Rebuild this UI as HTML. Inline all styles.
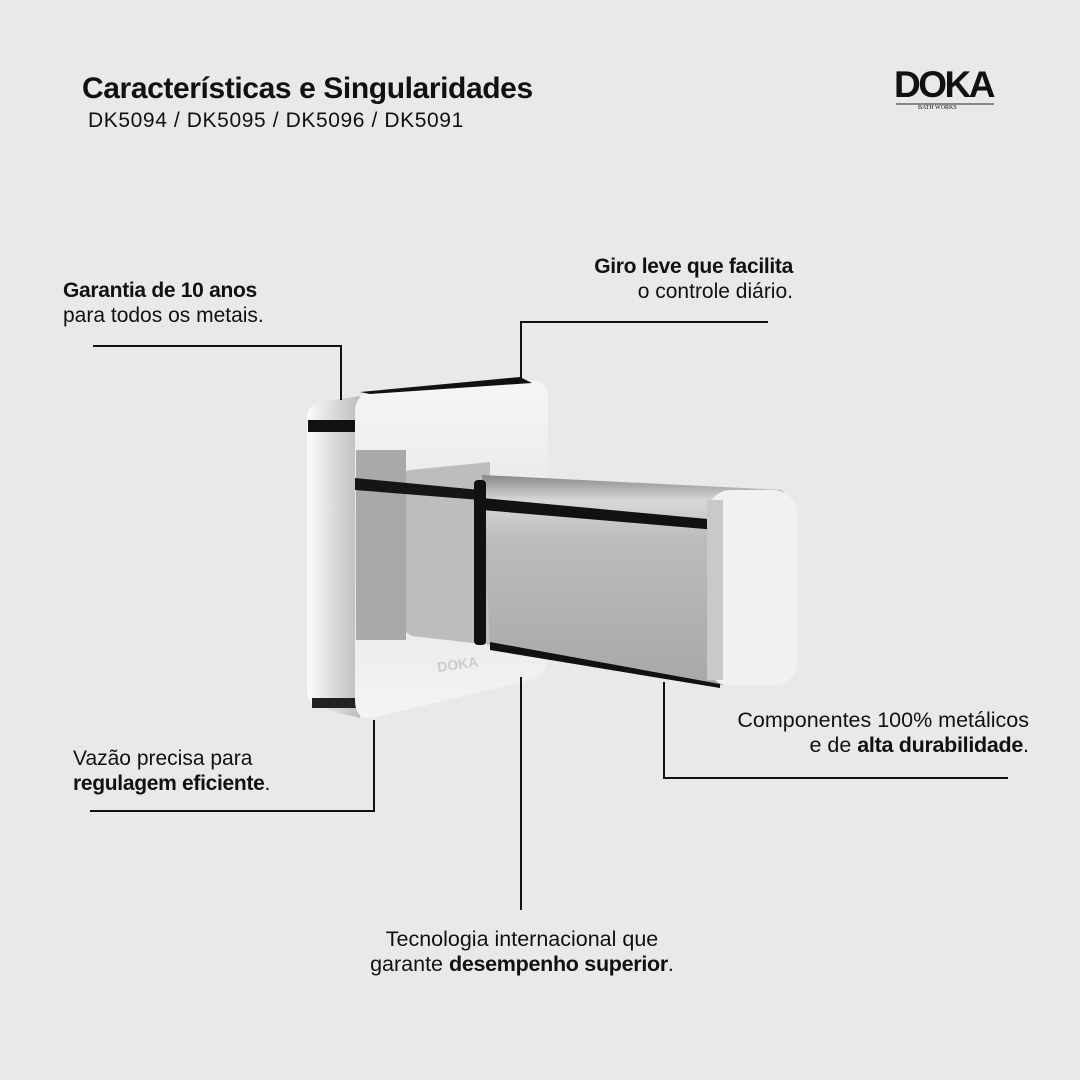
<!DOCTYPE html>
<html><head><meta charset="utf-8"><style>
body{margin:0;width:1080px;height:1080px;background:#e9e9e8;position:relative;overflow:hidden;font-family:"Liberation Sans",sans-serif;color:#111}
.t{position:absolute;white-space:nowrap;line-height:25px}
b{font-weight:bold}
</style></head><body>
<div class="t" style="left:82px;top:71px;font-size:30px;line-height:36px;font-weight:bold;letter-spacing:-0.4px">Características e Singularidades</div>
<div class="t" style="left:88px;top:108px;font-size:21px;letter-spacing:0.6px">DK5094 / DK5095 / DK5096 / DK5091</div>
<div class="t" style="left:894px;top:64px;font-size:37px;line-height:42px;font-weight:bold;letter-spacing:-2.5px">DOKA</div>
<div style="position:absolute;left:896px;top:103px;width:98px;height:2px;background:#888"></div>
<div class="t" style="left:918px;top:104px;font-size:6px;line-height:8px;font-family:'Liberation Serif',serif">BATH WORKS</div>

<div class="t" style="left:63px;top:278px;font-size:21px"><b style="letter-spacing:-0.3px">Garantia de 10 anos</b><br>para todos os metais.</div>
<div class="t" style="left:493px;top:254px;font-size:21px;text-align:right;width:300px"><b style="letter-spacing:-0.3px">Giro leve que facilita</b><br>o controle diário.</div>
<div class="t" style="left:73px;top:746px;font-size:21px">Vazão precisa para<br><b style="letter-spacing:-0.3px">regulagem eficiente</b>.</div>
<div class="t" style="left:640px;top:708px;font-size:21.5px;text-align:right;width:389px">Componentes 100% metálicos<br>e de <b style="letter-spacing:-0.3px">alta durabilidade</b>.</div>
<div class="t" style="left:272px;top:927px;font-size:21.5px;text-align:center;width:500px">Tecnologia internacional que<br>garante <b style="letter-spacing:-0.3px">desempenho superior</b>.</div>

<svg width="1080" height="1080" style="position:absolute;left:0;top:0">
<defs>
<linearGradient id="pl" x1="0" y1="0" x2="0" y2="1"><stop offset="0" stop-color="#f6f6f6"/><stop offset="0.5" stop-color="#e4e4e4"/><stop offset="1" stop-color="#f4f4f4"/></linearGradient>
<linearGradient id="sd" x1="0" y1="0" x2="1" y2="0"><stop offset="0" stop-color="#fafafa"/><stop offset="1" stop-color="#bdbdbd"/></linearGradient>
<linearGradient id="bd" x1="0" y1="0" x2="0" y2="1"><stop offset="0" stop-color="#888"/><stop offset="0.12" stop-color="#d8d8d8"/><stop offset="0.3" stop-color="#bcbcbc"/><stop offset="1" stop-color="#a8a8a8"/></linearGradient>
</defs>
<path d="M320,402 L360,396 L360,718 L318,708 Q307,704 307,690 L307,418 Q308,404 320,402Z" fill="url(#sd)"/>
<rect x="308" y="420" width="48" height="12" fill="#111"/>
<rect x="312" y="698" width="48" height="10" fill="#222"/>
<path d="M370,393 L532,380 Q548,380 548,398 L548,660 Q546,676 530,680 L372,718 Q355,720 355,700 L355,410 Q356,395 370,393Z" fill="url(#pl)"/>
<path d="M360,392 L520,377 L532,383 L370,394Z" fill="#111"/>
<path d="M410,470 L490,462 L490,645 L412,636 Q400,630 400,616 L400,485 Q401,471 410,470Z" fill="#bdbdbd"/>
<rect x="356" y="450" width="50" height="190" fill="#a9a9a9"/>
<path d="M355,478 L480,490 L480,500 L355,490Z" fill="#151515"/>
<path d="M482,475 L782,490 L790,500 L790,675 L715,686 L490,645 Z" fill="url(#bd)"/>
<path d="M482,498 L740,522 L740,532 L482,510Z" fill="#111"/>
<path d="M490,642 L720,684 L720,688 L490,650Z" fill="#111"/>
<rect x="474" y="480" width="12" height="165" rx="4" fill="#111"/>
<rect x="707" y="490" width="90" height="196" rx="24" fill="#f1f1f1"/>
<rect x="707" y="500" width="16" height="180" fill="#c9c9c9"/>
<text x="438" y="672" font-size="14" fill="#ccc" font-family="Liberation Sans" font-weight="bold" transform="rotate(-8 438 672)">DOKA</text>
<g stroke="#111" stroke-width="2" fill="none">
<polyline points="93,346 341,346 341,400"/>
<polyline points="768,322 521,322 521,380"/>
<polyline points="90,811 374,811 374,720"/>
<line x1="521" y1="677" x2="521" y2="910"/>
<polyline points="664,682 664,778 1008,778"/>
</g>
</svg>
</body></html>
